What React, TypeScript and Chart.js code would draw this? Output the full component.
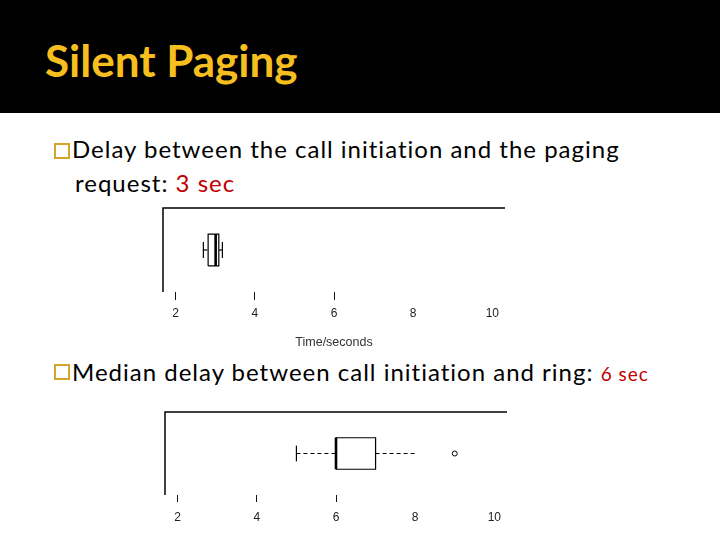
import React, { useEffect, useRef } from "react";
import { Chart, registerables } from "chart.js";
Chart.register(...registerables);

// ---- data ----
const TICK_VALUES = [2, 4, 6, 8, 10];
const MARKED_TICKS = [2, 4, 6];
const AXIS_MIN = 1.68;
const AXIS_MAX = 10.32;

// delay between call initiation and paging request (seconds): min, q1, median, q3, max
const PAGING_STATS = [2.7, 2.82, 3.01, 3.09, 3.18];
const PAGING_OUTLIERS: number[] = [];
const PAGING_CAPS = [2.7, 3.18];

// delay between call initiation and ring (seconds): min, q1, median, q3, max
const RING_STATS = [5, 6, 6, 7, 8];
const RING_OUTLIERS = [9];
const RING_CAPS = [5];

const AXIS_TITLE = "Time/seconds";

const BOX_HALF = 0.38;
const CAP_HALF = 0.19;

const framePlugin = {
  id: "frame",
  afterDraw(chart: any) {
    const { ctx, chartArea } = chart;
    const { left, top, right, bottom } = chartArea;
    ctx.save();
    ctx.strokeStyle = "#000";
    ctx.lineWidth = 1.5;
    ctx.beginPath();
    ctx.moveTo(left, bottom);
    ctx.lineTo(left, top);
    ctx.lineTo(right, top);
    ctx.stroke();
    ctx.restore();
  },
};

function buildDatasets(stats: number[], outliers: number[], caps: number[]) {
  const [mn, q1, med, q3, mx] = stats;
  const h = BOX_HALF;
  const line = (pts: any[], extra: any = {}) => ({
    type: "scatter",
    data: pts,
    showLine: true,
    borderColor: "#000",
    borderWidth: 1.2,
    pointRadius: 0,
    pointHoverRadius: 0,
    fill: false,
    ...extra,
  });
  const ds: any[] = [
    line([
      { x: q1, y: -h },
      { x: q3, y: -h },
      { x: q3, y: h },
      { x: q1, y: h },
      { x: q1, y: -h },
    ]),
    line([{ x: med, y: -h }, { x: med, y: h }], { borderWidth: 2.6 }),
    line([{ x: mn, y: 0 }, { x: q1, y: 0 }], { borderDash: [4, 3] }),
    line([{ x: q3, y: 0 }, { x: mx, y: 0 }], { borderDash: [4, 3] }),
    ...caps.map((c) => line([{ x: c, y: -CAP_HALF }, { x: c, y: CAP_HALF }])),
  ];
  if (outliers.length) {
    ds.push({
      type: "scatter",
      data: outliers.map((v) => ({ x: v, y: 0 })),
      pointStyle: "circle",
      pointRadius: 2.5,
      borderColor: "#000",
      borderWidth: 1,
      backgroundColor: "rgba(0,0,0,0)",
      showLine: false,
    });
  }
  return ds;
}

type BoxProps = {
  stats: number[];
  outliers: number[];
  caps: number[];
  width: number;
  height: number;
  pad: { left: number; right: number; top: number };
  axisHeight: number;
  tickLength: number;
  tickPadding: number;
  showTitle: boolean;
  left: number;
  top: number;
};

function BoxPlot(p: BoxProps) {
  const ref = useRef<HTMLCanvasElement>(null);
  useEffect(() => {
    if (!ref.current) return;
    const chart = new Chart(ref.current, {
      type: "scatter",
      data: { datasets: buildDatasets(p.stats, p.outliers, p.caps) },
      options: {
        animation: false,
        responsive: false,
        maintainAspectRatio: false,
        devicePixelRatio: 1,
        layout: { padding: { left: p.pad.left, right: p.pad.right, top: p.pad.top, bottom: 0 } },
        plugins: { legend: { display: false }, tooltip: { enabled: false } },
        scales: {
          x: {
            type: "linear",
            position: "bottom",
            min: AXIS_MIN,
            max: AXIS_MAX,
            afterBuildTicks: (s: any) => {
              s.ticks = TICK_VALUES.map((v) => ({ value: v }));
            },
            afterFit: (s: any) => {
              s.height = p.axisHeight;
            },
            border: { display: false },
            grid: {
              drawOnChartArea: false,
              drawTicks: true,
              tickLength: p.tickLength,
              lineWidth: 1,
              color: (c: any) =>
                c.tick && MARKED_TICKS.includes(c.tick.value) ? "#111" : "rgba(0,0,0,0)",
            },
            ticks: {
              autoSkip: false,
              maxRotation: 0,
              padding: p.tickPadding,
              color: "#222",
              font: { family: "'Liberation Sans', Arial, sans-serif", size: 12 },
              callback: (v: any) => String(v),
            },
            title: {
              display: p.showTitle,
              text: AXIS_TITLE,
              color: "#333",
              font: { family: "'Liberation Sans', Arial, sans-serif", size: 12.5 },
              padding: { top: 0, bottom: 0 },
            },
          },
          y: { display: false, min: -1, max: 1 },
        },
      } as any,
      plugins: [framePlugin],
    });
    return () => chart.destroy();
  }, []);
  return (
    <canvas
      ref={ref}
      width={p.width}
      height={p.height}
      style={{ position: "absolute", left: p.left, top: p.top, width: p.width, height: p.height }}
    />
  );
}

const FONT = "Lato, 'Open Sans', sans-serif";

function Bullet({ top }: { top: number }) {
  return (
    <div
      style={{
        position: "absolute",
        left: 54,
        top,
        width: 12,
        height: 12,
        border: "2px solid #D4A52B",
      }}
    />
  );
}

const bodyStyle: any = {
  position: "absolute",
  fontSize: 24,
  lineHeight: "24px",
  color: "#000",
  whiteSpace: "nowrap",
  letterSpacing: 1,
};

export default function App() {
  return (
    <div
      style={{
        position: "absolute",
        left: 0,
        top: 0,
        width: 720,
        height: 540,
        background: "#fff",
        overflow: "hidden",
        fontFamily: FONT,
      }}
    >
      <div style={{ position: "absolute", left: 0, top: 0, width: 720, height: 113, background: "#000" }} />
      <div
        style={{
          position: "absolute",
          left: 45,
          top: 38,
          fontSize: 44,
          lineHeight: "44px",
          fontWeight: 700,
          color: "#F5BF1F",
          whiteSpace: "nowrap",
        }}
      >
        Silent Paging
      </div>

      <Bullet top={143} />
      <div style={{ ...bodyStyle, left: 72, top: 137 }}>
        Delay between the call initiation and the paging
      </div>
      <div style={{ ...bodyStyle, left: 75, top: 171 }}>
        request: <span style={{ color: "#C00000" }}>3 sec</span>
      </div>

      <BoxPlot
        stats={PAGING_STATS}
        outliers={PAGING_OUTLIERS}
        caps={PAGING_CAPS}
        left={140}
        top={200}
        width={380}
        height={150}
        pad={{ left: 23, right: 15, top: 8 }}
        axisHeight={58}
        tickLength={8}
        tickPadding={6}
        showTitle={true}
      />

      <Bullet top={364} />
      <div style={{ ...bodyStyle, left: 72, top: 360 }}>
        Median delay between call initiation and ring:{" "}
        <span style={{ color: "#C00000", fontSize: 19 }}>6 sec</span>
      </div>

      <BoxPlot
        stats={RING_STATS}
        outliers={RING_OUTLIERS}
        caps={RING_CAPS}
        left={140}
        top={404}
        width={380}
        height={136}
        pad={{ left: 25, right: 13, top: 8 }}
        axisHeight={45}
        tickLength={7}
        tickPadding={8}
        showTitle={false}
      />
    </div>
  );
}
